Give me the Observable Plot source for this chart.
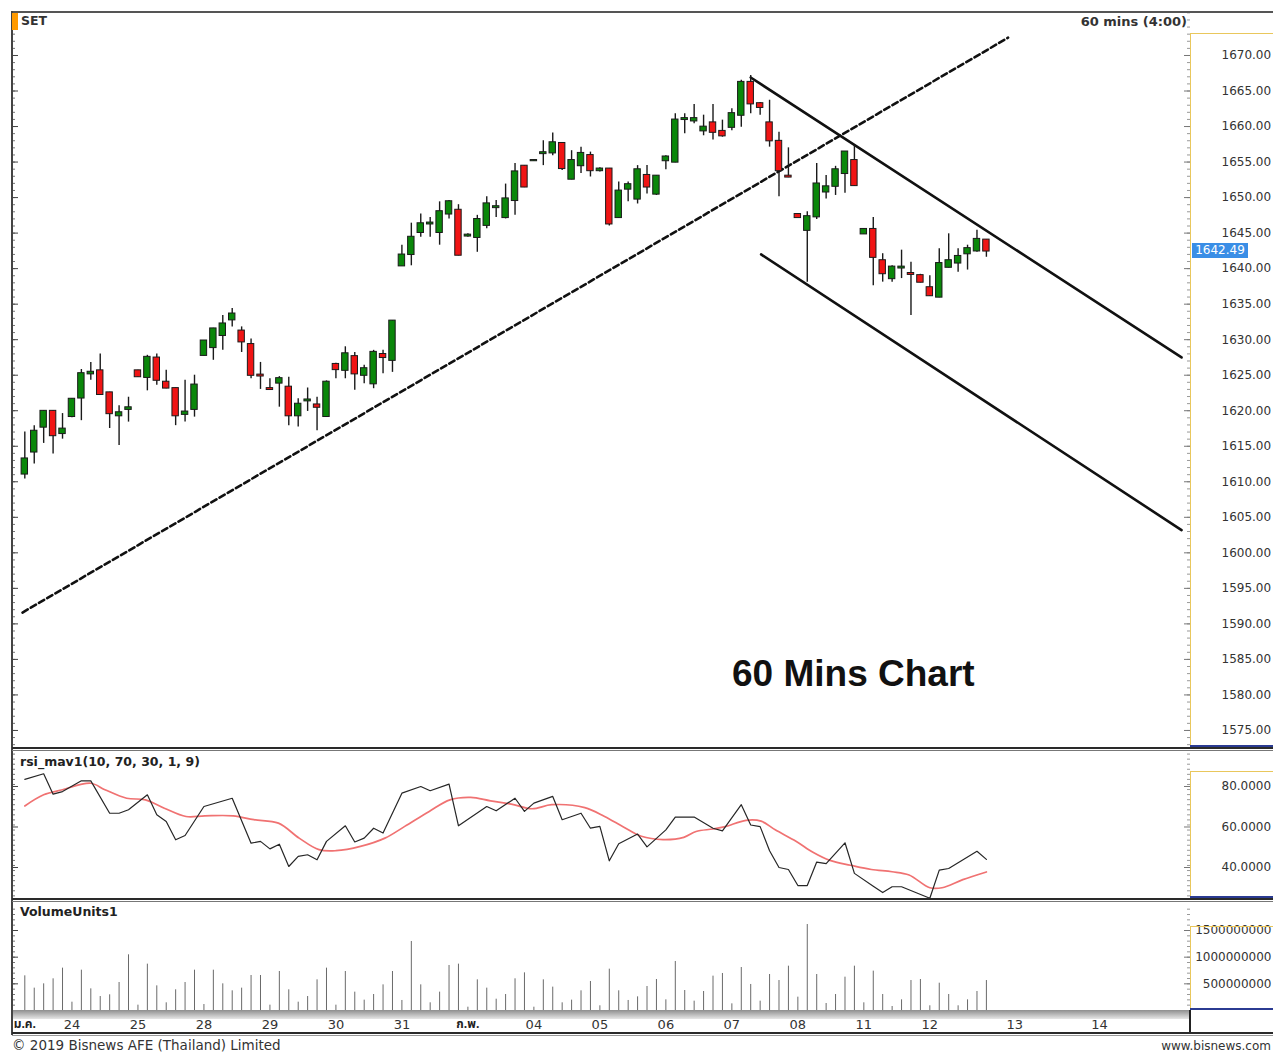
<!DOCTYPE html>
<html><head><meta charset="utf-8">
<script src="https://cdn.jsdelivr.net/npm/d3@7"></script>
<script src="https://cdn.jsdelivr.net/npm/@observablehq/plot@0.6"></script>
<style>
body{margin:0;background:#fff;overflow:hidden;}
#root{position:relative;width:1273px;height:1052px;overflow:hidden;font-family:"DejaVu Sans",Verdana,sans-serif;color:#333;background:#fff;}
.abs{position:absolute;white-space:nowrap;}
.t{position:absolute;white-space:nowrap;line-height:1;}
</style></head><body><div id="root"></div>
<script>
// ---------------- DATA ----------------
// hourly candles, index 0..102 (23 Jan – 12 Feb 2019)
const openP  = [1611.1,1614.2,1617.7,1619.9,1616.8,1619.2,1621.8,1625.2,1625.6,1622.5,1619.3,1620.2,1625.6,1624.7,1627.4,1624.0,1623.1,1619.5,1620.2,1627.8,1628.9,1630.6,1632.8,1631.2,1629.3,1625.0,1623.1,1623.9,1623.3,1619.3,1621.4,1620.8,1619.2,1626.5,1625.7,1627.6,1625.0,1623.8,1627.9,1627.1,1640.4,1642.0,1645.1,1646.3,1645.1,1647.7,1648.2,1644.6,1644.4,1646.1,1648.6,1647.2,1649.6,1654.4,1655.2,1656.2,1656.3,1657.6,1652.6,1654.5,1655.9,1653.8,1654.0,1647.2,1651.2,1649.8,1653.1,1650.5,1655.2,1655.0,1661.0,1660.8,1659.4,1660.5,1659.3,1659.9,1661.6,1666.2,1663.2,1660.5,1657.9,1653.0,1647.6,1645.4,1647.3,1650.8,1651.6,1653.4,1655.2,1644.9,1645.5,1641.1,1638.6,1640.1,1639.3,1639.0,1637.3,1636.0,1640.2,1640.8,1642.1,1642.5,1644.0];
const highP  = [1617.0,1617.9,1620.0,1620.0,1619.6,1621.7,1625.8,1626.8,1628.0,1622.6,1620.7,1621.9,1625.7,1627.8,1628.0,1625.7,1623.2,1624.3,1625.0,1629.9,1631.6,1633.4,1634.4,1631.8,1630.1,1626.8,1624.5,1624.8,1624.7,1621.7,1623.2,1621.9,1624.2,1626.7,1629.0,1628.2,1626.4,1628.5,1628.5,1632.7,1643.3,1646.4,1647.7,1647.2,1649.4,1649.6,1649.0,1644.9,1647.5,1650.1,1649.6,1651.9,1654.8,1654.5,1655.3,1658.0,1659.1,1657.7,1656.6,1657.1,1656.4,1654.2,1654.1,1652.2,1652.2,1654.5,1654.5,1653.1,1655.9,1661.8,1661.8,1663.1,1661.6,1663.1,1660.9,1662.5,1666.5,1667.2,1663.4,1663.7,1659.2,1657.0,1647.7,1648.0,1654.8,1653.1,1654.4,1656.5,1657.3,1645.6,1647.2,1642.1,1640.4,1642.6,1640.9,1639.2,1639.0,1642.8,1644.9,1642.8,1643.3,1645.4,1644.1];
const lowP   = [1610.4,1612.5,1615.4,1613.9,1616.0,1619.0,1618.6,1624.3,1622.2,1617.5,1615.1,1618.4,1624.7,1622.8,1623.6,1623.1,1617.9,1618.4,1619.1,1627.7,1627.1,1628.5,1631.8,1628.2,1624.5,1623.0,1623.0,1620.5,1617.9,1617.7,1619.9,1617.2,1619.1,1624.5,1624.5,1622.9,1623.8,1623.1,1625.2,1625.4,1640.4,1640.4,1644.4,1644.4,1643.3,1647.0,1641.8,1644.4,1642.3,1645.6,1647.2,1647.0,1647.5,1651.4,1655.1,1654.5,1655.9,1653.8,1652.5,1653.4,1652.9,1653.6,1646.0,1647.1,1649.4,1649.1,1650.5,1650.3,1653.9,1654.9,1659.0,1660.4,1658.7,1658.1,1658.5,1659.4,1659.9,1661.8,1661.6,1657.1,1650.1,1652.8,1647.2,1638.1,1646.9,1649.8,1650.3,1650.6,1651.6,1644.8,1637.6,1638.1,1638.1,1638.6,1633.4,1638.0,1636.1,1635.9,1640.1,1639.5,1639.8,1642.3,1641.6];
const closeP = [1613.2,1617.1,1619.9,1616.5,1617.4,1621.6,1625.2,1625.4,1622.3,1619.6,1619.7,1620.4,1624.8,1627.5,1624.3,1623.2,1619.3,1619.8,1623.6,1629.8,1631.5,1632.2,1633.6,1629.7,1625.0,1624.9,1623.0,1624.5,1619.3,1620.9,1621.5,1620.5,1624.0,1625.8,1628.0,1625.2,1625.9,1628.2,1627.5,1632.6,1641.9,1644.4,1646.3,1646.4,1648.0,1649.4,1641.9,1644.7,1646.9,1649.1,1648.7,1649.8,1653.6,1651.5,1655.2,1656.3,1657.7,1654.1,1655.2,1656.2,1653.8,1654.0,1646.3,1650.9,1651.8,1653.9,1651.5,1653.0,1655.7,1660.9,1661.1,1661.1,1659.9,1659.2,1658.7,1661.8,1666.2,1663.2,1662.7,1658.0,1653.8,1652.9,1647.2,1647.3,1651.9,1651.5,1653.9,1656.4,1651.7,1645.5,1641.6,1639.3,1640.2,1640.2,1639.2,1638.1,1636.2,1640.7,1641.1,1641.7,1642.8,1644.1,1642.49];
const lastPrice = 1642.49;

// trend lines (candle index, price)
const upTrendIdx = [-0.24, 104.3],  upTrendPx = [1591.6, 1672.5];
const chanTopIdx = [77.0, 122.7],   chanTopPx = [1666.9, 1627.5];
const chanBotIdx = [78.1, 122.7],   chanBotPx = [1642.0, 1603.2];

// RSI (black) vertices
const rsiIdx = [0,2,3,4,6,7,9,10,11,13,14,15,16,17,19,22,24,25,26,27,28,29,30,31,32,34,35,36,37,38,40,42,43,45,46,49,50,52,53,54,56,57,59,60,61,62,63,65,66,68,69,71,73,74,76,77,78,79,80,81,82,83,84,85,87,88,90,91,92,93,96,97,98,101,102];
const rsiVal = [83.5,86.3,76.2,77.5,82.8,82.8,66.8,66.8,68.5,75.9,66.0,62.7,53.7,55.8,70.1,74.2,52.0,52.9,49.2,51.5,40.5,45.5,46.3,43.8,52.9,60.6,52.6,54.5,59.4,57.0,76.7,80.0,77.9,81.2,60.6,70.1,68.0,74.2,67.7,71.8,75.1,63.6,66.8,59.4,60.3,43.3,51.7,56.5,50.2,58.6,64.9,64.9,59.4,58.1,71.0,61.0,60.2,48.3,40.0,39.0,31.1,31.1,42.7,41.9,52.2,37.1,30.8,27.6,30.5,30.5,24.8,38.7,39.5,48.0,44.0];
// RSI moving average (red) vertices
const maIdx = [0,2,4,7,8.5,10.8,12.8,14.8,17.1,19.1,22.1,24.3,26.9,29.1,31.2,33,35.6,38.2,40.3,42.9,45.1,47.3,49.4,51.6,53.8,55.9,59.4,61.5,63.5,65.4,67.7,69.9,71.2,73,74.3,76.5,78.1,79.6,81.8,83.6,85.4,87.6,89.8,92,93.8,96,97.3,99.5,102];
const maVal = [70.4,75.9,78.4,81.6,78.4,74.2,73.4,69.3,65.2,65.5,65.5,63.6,61.9,54.5,48.8,48.3,50.4,54.5,60.3,67.7,73.4,74.6,72.9,71.3,69.0,71.0,69.6,65.2,60.0,55.4,53.8,54.9,57.8,59.0,60.2,63.3,62.9,58.6,53.0,47.5,43.5,41.1,39.0,37.9,36.3,30.0,30.0,34.0,37.8];

// volume per candle (millions of units)
const volM = [650,419,500,594,794,156,756,406,262,294,525,1044,100,869,462,144,388,525,756,112,756,500,369,419,656,656,100,731,388,156,262,575,794,100,731,344,194,300,481,731,188,1294,481,144,344,844,869,62,575,419,212,300,594,706,62,575,438,144,194,369,544,88,775,369,188,256,450,581,200,919,375,175,356,644,694,125,806,488,175,675,562,831,250,1612,675,131,300,625,831,144,738,300,75,200,562,581,88,512,300,88,200,356,562];
const volume = volM.map(v => v * 1e6);

// axis ticks
const priceTicks = [1575,1580,1585,1590,1595,1600,1605,1610,1615,1620,1625,1630,1635,1640,1645,1650,1655,1660,1665,1670];
const rsiTicks = [40, 60, 80];
const volTicks = [500000000, 1000000000, 1500000000];
const dayTickIdx = [5,12,19,26,33,40,54,61,68,75,82,89,96,105,114];
const dayTickLabels = ["24","25","28","29","30","31","04","05","06","07","08","11","12","13","14"];
const monthTickIdx = [0, 47];
const monthTickLabels = ["ม.ค.", "ก.พ."];

// ---------------- LAYOUT ----------------
const root = document.getElementById("root");
const SVGW = 1261, PW = 1178, MR = SVGW - PW;
const X_DOMAIN = [-1.306, 123.65];
const FONT = "DejaVu Sans, Verdana, sans-serif";

function place(el, left, top) {
  el.style.position = "absolute"; el.style.left = left + "px"; el.style.top = top + "px";
  root.appendChild(el); return el;
}
function box(left, top, w, h, bg, extra) {
  const d = document.createElement("div");
  d.className = "abs";
  Object.assign(d.style, {left: left+"px", top: top+"px", width: w+"px", height: h+"px", background: bg}, extra||{});
  root.appendChild(d); return d;
}
function text(str, opts) {
  const d = document.createElement("div");
  d.className = "t"; d.textContent = str;
  const fs = opts.size || 12;
  Object.assign(d.style, {fontSize: fs+"px", fontWeight: opts.bold ? "bold" : "normal", color: opts.color || "#333",
    fontFamily: opts.family || FONT, top: (opts.cy - 0.48*fs) + "px"});
  if (opts.right !== undefined) d.style.right = opts.right + "px"; else d.style.left = opts.left + "px";
  root.appendChild(d); return d;
}
function edgeTicks(minor, major, minorLen, majorLen) {
  return [
    Plot.tickY(minor, {y: d => d, insetRight: PW - minorLen, stroke: "#777", strokeWidth: 1}),
    Plot.tickY(major, {y: d => d, insetRight: PW - majorLen, stroke: "#444", strokeWidth: 1}),
    Plot.tickY(minor, {y: d => d, insetLeft: PW - minorLen, stroke: "#999", strokeWidth: 1}),
    Plot.tickY(major, {y: d => d, insetLeft: PW - majorLen, stroke: "#777", strokeWidth: 1})
  ];
}

// ---------------- PRICE PANEL ----------------
const candles = openP.map((o, i) => ({i, o, h: highP[i], l: lowP[i], c: closeP[i]}));
const mkLine = (xs, ys) => xs.map((x, k) => ({x, y: ys[k]}));
const pricePlot = Plot.plot({
  width: SVGW, height: 736, marginLeft: 0, marginRight: MR, marginTop: 0, marginBottom: 0,
  style: {background: "transparent", overflow: "visible", fontFamily: FONT},
  x: {domain: X_DOMAIN, axis: null},
  y: {domain: [1572.46, 1676.05], axis: null},
  marks: [
    ...edgeTicks(d3.range(1573, 1677, 1), priceTicks, 3, 6),
    Plot.axisY({anchor: "right", label: null, ticks: priceTicks, tickSize: 0, tickPadding: 31, tickFormat: d3.format(".2f"), fontSize: 12, fill: "#333"}),
    Plot.line(mkLine(upTrendIdx, upTrendPx), {x: "x", y: "y", stroke: "#111", strokeWidth: 2.6, strokeDasharray: "6,3.5"}),
    Plot.line(mkLine(chanTopIdx, chanTopPx), {x: "x", y: "y", stroke: "#111", strokeWidth: 2.6}),
    Plot.line(mkLine(chanBotIdx, chanBotPx), {x: "x", y: "y", stroke: "#111", strokeWidth: 2.6}),
    Plot.ruleX(candles, {x: "i", y1: "l", y2: "h", stroke: "#1a1a1a", strokeWidth: 1.4}),
    Plot.rect(candles, {x1: d => d.i - 0.34, x2: d => d.i + 0.34, y1: "o", y2: "c", insetTop: -0.6, insetBottom: -0.6,
      fill: d => d.c >= d.o ? "#0a870a" : "#f01414", stroke: "#1a1a1a", strokeWidth: 1})
  ]
});
place(pricePlot, 12, 12);

// ---------------- RSI PANEL ----------------
const rsiPlot = Plot.plot({
  width: SVGW, height: 148, marginLeft: 0, marginRight: MR, marginTop: 0, marginBottom: 0,
  style: {background: "transparent", overflow: "visible", fontFamily: FONT},
  x: {domain: X_DOMAIN, axis: null},
  y: {domain: [24.2, 97.28], axis: null},
  marks: [
    ...edgeTicks(d3.range(26, 97, 2.5), rsiTicks, 3, 6),
    Plot.axisY({anchor: "right", label: null, ticks: rsiTicks, tickSize: 0, tickPadding: 31, tickFormat: d3.format(".4f"), fontSize: 12, fill: "#333"}),
    Plot.line(mkLine(maIdx, maVal), {x: "x", y: "y", stroke: "#f07272", strokeWidth: 1.7, curve: "catmull-rom"}),
    Plot.line(mkLine(rsiIdx, rsiVal), {x: "x", y: "y", stroke: "#262626", strokeWidth: 1.2})
  ]
});
place(rsiPlot, 12, 751);

// ---------------- VOLUME PANEL ----------------
const volData = volume.map((v, i) => ({i, v}));
const dayMap = new Map(dayTickIdx.map((d, k) => [d, dayTickLabels[k]]));
const monMap = new Map(monthTickIdx.map((d, k) => [d, monthTickLabels[k]]));
const volPlot = Plot.plot({
  width: SVGW, height: 131, marginLeft: 0, marginRight: MR, marginTop: 0, marginBottom: 23,
  style: {background: "transparent", overflow: "visible", fontFamily: FONT},
  x: {domain: X_DOMAIN, axis: null},
  y: {domain: [0, 2025e6], axis: null},
  marks: [
    ...edgeTicks(d3.range(100e6, 2000e6, 100e6), volTicks, 3, 6),
    Plot.axisY({anchor: "right", label: null, ticks: volTicks, tickSize: 0, tickPadding: 81, textAnchor: "end", tickFormat: d3.format("d"), fontSize: 12, fill: "#333"}),
    Plot.ruleX(volData, {x: "i", y: "v", stroke: "#6a6a6a", strokeWidth: 1}),
    Plot.axisX({anchor: "bottom", label: null, ticks: dayTickIdx, tickFormat: d => dayMap.get(d), tickSize: 0, tickPadding: 9, fontSize: 13, fill: "#333"}),
    Plot.axisX({anchor: "bottom", label: null, ticks: monthTickIdx, tickFormat: d => monMap.get(d), tickSize: 0, tickPadding: 9, fontSize: 12, fontWeight: "bold", fill: "#222",
      fontFamily: "Tahoma, 'Noto Sans Thai', 'Noto Sans', 'DejaVu Sans', sans-serif"})
  ]
});
place(volPlot, 12, 902);
// x-axis gray band (behind labels)
const band = box(12, 1010, 1178, 9, "linear-gradient(#8e8e8e, #e6e6e6)");
root.insertBefore(band, volPlot);

// ---------------- FRAME / DECORATION ----------------
box(12, 11, 1261, 2, "#555");                 // top frame
box(11, 11, 2, 1024, "#444");                 // left frame
box(12, 13, 6, 17, "#ff9a00");                // orange marker
// panel separators
box(12, 747, 1261, 2, "#2a2a2a"); box(12, 750, 1261, 1, "#777");
box(12, 898, 1261, 2, "#2a2a2a"); box(12, 901, 1261, 1, "#777");
box(12, 1032, 1261, 2, "#2a2a2a"); box(12, 1035, 1261, 1, "#999");
// right axis areas: yellow top/left, blue bottom
function axisArea(top, bottom) {
  box(1190, top, 83, 1, "#e9c75c");
  box(1190, top, 1, bottom - top, "#e9c75c");
  box(1190, bottom - 2, 83, 2, "#2b3b92");
}
axisArea(33, 747);
axisArea(771, 898);
axisArea(926, 1010);
// x-axis right box
box(1190, 1010, 83, 22, "#fff");
box(1189, 1010, 2, 22, "#222");

// last-price label (placed with the price scale)
const py = 12 + pricePlot.scale("y").apply(lastPrice);
const lp = box(1192, py - 7.5, 56, 15, "#3a8ee6");
lp.style.color = "#fff"; lp.style.fontSize = "12px"; lp.style.lineHeight = "15px"; lp.style.fontFamily = FONT;
lp.style.textAlign = "center"; lp.textContent = d3.format(".2f")(lastPrice);

// texts
text("SET", {left: 21, cy: 21, size: 12.5, bold: true});
text("60 mins (4:00)", {right: 86, cy: 21, size: 13, bold: true});
text("rsi_mav1(10, 70, 30, 1, 9)", {left: 20, cy: 762, size: 12.5, bold: true, color: "#222"});
text("VolumeUnits1", {left: 20, cy: 912, size: 12.5, bold: true, color: "#222"});
text("© 2019 Bisnews AFE (Thailand) Limited", {left: 12, cy: 1045, size: 13.5, color: "#333"});
text("www.bisnews.com", {right: 2, cy: 1046, size: 12, color: "#333"});
text("60 Mins Chart", {left: 732, cy: 673, size: 37, bold: true, color: "#111", family: "'Liberation Sans', Arial, sans-serif"});
</script>
</body></html>
